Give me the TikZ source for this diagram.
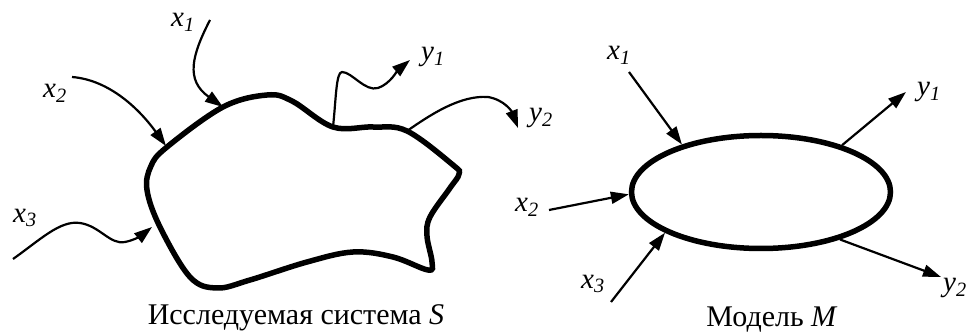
\documentclass[tikz,border=0pt]{standalone}
\usepackage{fontspec}
\setmainfont{Liberation Serif}
\usetikzlibrary{arrows.meta,shapes.geometric}
\newcommand\svar[2]{\textit{#1}\textsubscript{\textit{#2}}}
\begin{document}
\begin{tikzpicture}[x=1pt,y=-1pt,
  sig/.style={line width=2.2pt,-{Triangle[length=18pt,width=12pt]}},
  bnd/.style={line width=5.5pt},
  lab/.style={font=\fontsize{29}{31}\selectfont, inner sep=0pt},
  capt/.style={font=\fontsize{30}{32}\selectfont, inner sep=0pt}]
\useasboundingbox (0,0) rectangle (972,336);
% ---- left: system S ----
\draw[bnd] plot[smooth cycle, tension=0.6] coordinates {
 (167,147) (223,107) (267,95) (292,101) (333,127) (373,127) (407,131)
 (453,165) (459,174) (450,188) (430,217) (427,236) (432,262) (428,270)
 (393,257) (353,252) (307,262) (250,280) (217,288) (190,277) (160,227)
 (147,190) (151,166)};
\coordinate (s1) at (223,107);
\coordinate (s2) at (166,146);
\coordinate (s3) at (152,227);
\coordinate (o1) at (333,127);
\coordinate (o2) at (407,131);
\coordinate (a1) at (210,20);
\coordinate (a2) at (72,77);
\coordinate (a3) at (13,259);
\coordinate (e1) at (410,60);
\coordinate (e2) at (518,128);
\node[lab] (lx1) at (183,22) {\svar{x}{1}};
\node[lab] (lx2) at (55,93) {\svar{x}{2}};
\node[lab] (lx3) at (25,218) {\svar{x}{3}};
\node[lab] (ly1) at (433,57) {\svar{y}{1}};
\node[lab] (ly2) at (541,118) {\svar{y}{2}};
\draw[sig] (a1) .. controls (192,55) and (185,80) .. (s1);
\draw[sig] (a2) .. controls (110,80) and (140,110) .. (s2);
\draw[sig] (a3) .. controls (40,240) and (60,220) .. (80,223)
  .. controls (100,226) and (110,245) .. (125,242)
  .. controls (135,240) and (142,235) .. (s3);
\draw[sig] (o1) .. controls (336,100) and (336,72) .. (342,72)
  .. controls (352,72) and (365,92) .. (378,88)
  .. controls (390,84) and (398,70) .. (e1);
\draw[sig] (o2) .. controls (430,115) and (460,95) .. (488,97)
  .. controls (505,100) and (512,112) .. (e2);
\node[capt] (cS) at (296,318) {Исследуемая система \textit{S}};
% ---- right: model M ----
\node[ellipse, draw, bnd, minimum width=259pt, minimum height=113pt, inner sep=0pt] (M) at (761,192) {};
\coordinate (b1) at (629,72);
\coordinate (b2) at (549,210);
\coordinate (b3) at (611,302);
\coordinate (f1) at (906,92);
\coordinate (f2) at (941,277);
\node[lab] (mx1) at (619,55) {\svar{x}{1}};
\node[lab] (mx2) at (527,207) {\svar{x}{2}};
\node[lab] (mx3) at (593,284) {\svar{x}{3}};
\node[lab] (my1) at (929,92) {\svar{y}{1}};
\node[lab] (my2) at (955,288) {\svar{y}{2}};
\draw[sig] (b1) -- (M.149);
\draw[sig] (b2) -- (M.181);
\draw[sig] (b3) -- (M.203);
\draw[sig] (M.30) -- (f1);
\draw[sig] (M.-31) -- (f2);
\node[capt] (cM) at (772,320) {Модель \textit{M}};
\end{tikzpicture}
\end{document}
